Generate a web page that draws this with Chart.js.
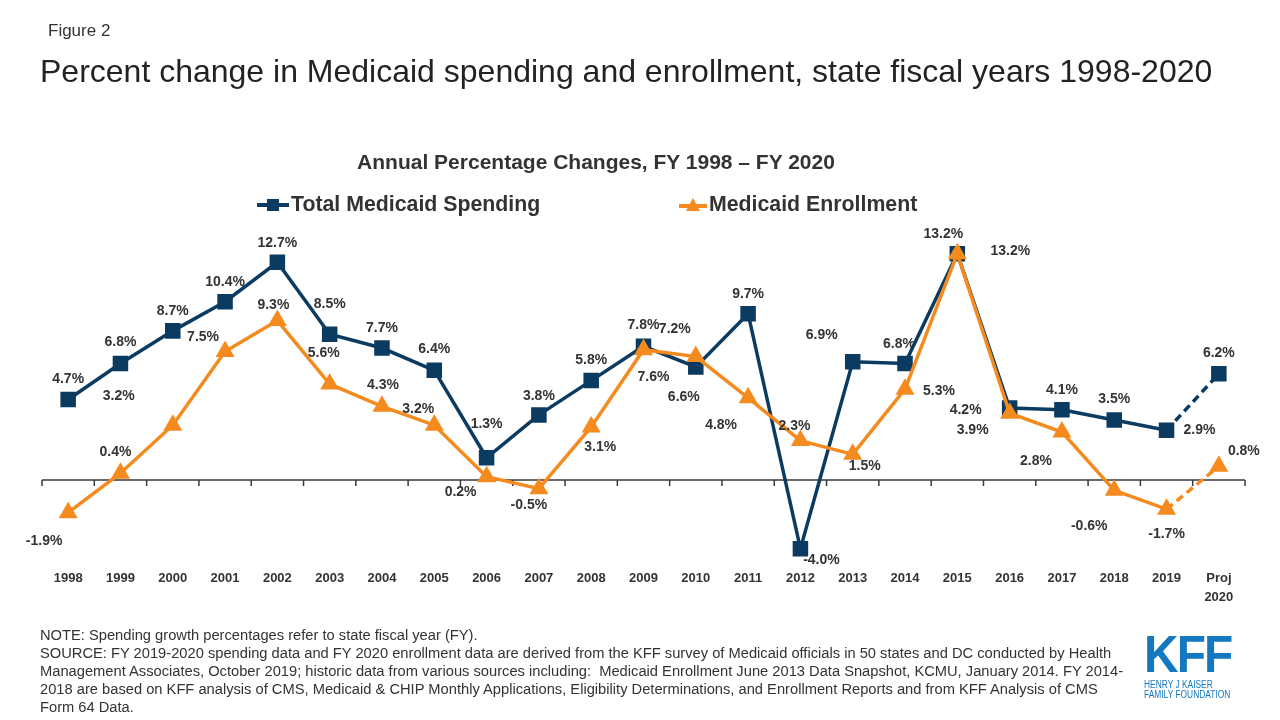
<!DOCTYPE html>
<html>
<head>
<meta charset="utf-8">
<script src="https://cdn.jsdelivr.net/npm/chart.js@4.4.0/dist/chart.umd.min.js"></script>
<style>
    body { margin: 0; background: #fff; font-family: "Liberation Sans", Arial, sans-serif; color: #333; }
    #page { position: relative; width: 1280px; height: 720px; overflow: hidden; }
    #chart { position: absolute; left: 0; top: 0; }
    .abs { position: absolute; white-space: nowrap; }
    #fig { left: 48px; top: 21px; font-size: 17px; color: #333; }
    #title { left: 40px; top: 53px; font-size: 32px; color: #222; }
    #subtitle { left: 0; width: 1192px; text-align: center; top: 150px; font-size: 21px; font-weight: bold; color: #333; }
    .legend { top: 192px; font-size: 21.3px; font-weight: bold; color: #333; display: flex; align-items: center; }
    .legend svg { margin-right: 1px; }
    .note { left: 40px; font-size: 14.7px; color: #333; }
    #kff { left: 1144px; top: 628px; color: #1378c0; background: #fff; }
    #kff .big { font-size: 52px; font-weight: bold; letter-spacing: -2px; transform: scaleX(0.92); transform-origin: left top; line-height: 52px; }
    #kff .small { font-size: 10px; line-height: 10px; transform: scaleX(0.84); transform-origin: left top; }
</style>
</head>
<body>
<div id="page">
    <canvas id="chart" width="1280" height="720"></canvas>
    <div class="abs" id="fig">Figure 2</div>
    <div class="abs" id="title">Percent change in Medicaid spending and enrollment, state fiscal years 1998-2020</div>
    <div class="abs" id="subtitle">Annual Percentage Changes, FY 1998 – FY 2020</div>
    <div class="abs legend" style="left:256px">
        <svg width="34" height="16"><line x1="1" y1="8" x2="33" y2="8" stroke="#0b3b60" stroke-width="4"/><rect x="11" y="2" width="12" height="12" fill="#0b3b60"/></svg>Total Medicaid Spending
    </div>
    <div class="abs legend" style="left:678px">
        <svg width="30" height="16"><line x1="1" y1="9" x2="29" y2="9" stroke="#f58b1f" stroke-width="4"/><polygon points="15,1 22,14 8,14" fill="#f58b1f"/></svg>Medicaid Enrollment
    </div>
    <div class="abs note" style="top:627px">NOTE: Spending growth percentages refer to state fiscal year (FY).</div>
    <div class="abs note" style="top:645px">SOURCE: FY 2019-2020 spending data and FY 2020 enrollment data are derived from the KFF survey of Medicaid officials in 50 states and DC conducted by Health</div>
    <div class="abs note" style="top:663px">Management Associates, October 2019; historic data from various sources including:&nbsp; Medicaid Enrollment June 2013 Data Snapshot, KCMU, January 2014. FY 2014-</div>
    <div class="abs note" style="top:681px">2018 are based on KFF analysis of CMS, Medicaid &amp; CHIP Monthly Applications, Eligibility Determinations, and Enrollment Reports and from KFF Analysis of CMS</div>
    <div class="abs note" style="top:699px">Form 64 Data.</div>
    <div class="abs" id="kff">
        <div class="big">KFF</div>
        <div class="small">HENRY J KAISER</div>
        <div class="small">FAMILY FOUNDATION</div>
    </div>
</div>
<script>
const years = ['1998', '1999', '2000', '2001', '2002', '2003', '2004', '2005', '2006', '2007', '2008', '2009',
    '2010', '2011', '2012', '2013', '2014', '2015', '2016', '2017', '2018', '2019', ['Proj', '2020']];

const spending = [4.7, 6.8, 8.7, 10.4, 12.7, 8.5, 7.7, 6.4, 1.3, 3.8, 5.8, 7.8,
    6.6, 9.7, -4.0, 6.9, 6.8, 13.2, 4.2, 4.1, 3.5, 2.9, 6.2];

const enrollment = [-1.9, 0.4, 3.2, 7.5, 9.3, 5.6, 4.3, 3.2, 0.2, -0.5, 3.1, 7.6,
    7.2, 4.8, 2.3, 1.5, 5.3, 13.2, 3.9, 2.8, -0.6, -1.7, 0.8];

// label offsets from each point, in px [dx, dy]
const spendingLabelPos = [[0, -20], [0, -21], [0, -20], [0, -20], [0, -19], [0, -30], [0, -20], [0, -21],
    [0, -34], [0, -19], [0, -20], [0, -21], [-12, 30], [0, -20], [21, 11], [-31, -27], [-6, -19],
    [-14, -20], [-44, 2], [0, -20], [0, -21], [33, 0], [0, -21]];
const enrollmentLabelPos = [[-24, 28], [-5, -21], [-54, -29], [-22, -14], [-4, -15], [-6, -31], [1, -21],
    [-16, -16], [-26, 16], [-10, 17], [9, 20], [10, 27], [-21, -27], [-27, 27], [-6, -14], [12, 12],
    [34, 2], [53, -3], [-37, 17], [-26, 29], [-25, 36], [0, 25], [25, -15]];

const NAVY = '#0b3b60';
const ORANGE = '#f58b1f';
const last = years.length - 1;

const zeroLine = {
    id: 'zeroLine',
    beforeDatasetsDraw(chart) {
        const { ctx, chartArea, scales } = chart;
        const y0 = scales.y.getPixelForValue(0);
        ctx.save();
        ctx.strokeStyle = '#3a3a3a';
        ctx.lineWidth = 1.5;
        ctx.beginPath();
        ctx.moveTo(chartArea.left, y0);
        ctx.lineTo(chartArea.right, y0);
        const half = (scales.x.getPixelForValue(1) - scales.x.getPixelForValue(0)) / 2;
        for (let i = 0; i <= years.length; i++) {
            const x = scales.x.getPixelForValue(i) - half;
            ctx.moveTo(x, y0);
            ctx.lineTo(x, y0 + 6);
        }
        ctx.stroke();
        ctx.restore();
    }
};

const pointLabels = {
    id: 'pointLabels',
    afterDatasetsDraw(chart) {
        const { ctx } = chart;
        ctx.save();
        ctx.font = 'bold 14px "Liberation Sans", Arial, sans-serif';
        ctx.fillStyle = '#333';
        ctx.textAlign = 'center';
        ctx.textBaseline = 'middle';
        chart.data.datasets.forEach((ds, di) => {
            const meta = chart.getDatasetMeta(di);
            meta.data.forEach((pt, i) => {
                const [dx, dy] = ds.labelPos[i];
                ctx.fillText(ds.data[i].toFixed(1) + '%', pt.x + dx, pt.y + dy);
            });
        });
        ctx.restore();
    }
};

const dashLast = ctx => ctx.p1DataIndex === last ? [8, 5] : undefined;

new Chart(document.getElementById('chart'), {
    type: 'line',
    data: {
        labels: years,
        datasets: [{
            label: 'Medicaid Enrollment',
            data: enrollment,
            labelPos: enrollmentLabelPos,
            borderColor: ORANGE,
            backgroundColor: ORANGE,
            borderWidth: 3.5,
            pointStyle: 'triangle',
            pointRadius: 7.5,
            pointHoverRadius: 7.5,
            tension: 0,
            segment: { borderDash: dashLast }
        }, {
            label: 'Total Medicaid Spending',
            data: spending,
            labelPos: spendingLabelPos,
            borderColor: NAVY,
            backgroundColor: NAVY,
            borderWidth: 3.5,
            pointStyle: 'rect',
            pointRadius: 8.5,
            pointHoverRadius: 8.5,
            tension: 0,
            segment: { borderDash: dashLast }
        }]
    },
    options: {
        responsive: false,
        animation: false,
        layout: { padding: { left: 42, right: 35, top: 240, bottom: 110.5 } },
        plugins: {
            legend: { display: false },
            tooltip: { enabled: false }
        },
        scales: {
            x: {
                offset: true,
                grid: { display: false, drawTicks: false },
                border: { display: false },
                ticks: {
                    autoSkip: false,
                    maxRotation: 0,
                    padding: 3,
                    color: '#333',
                    font: { family: '"Liberation Sans", Arial, sans-serif', size: 13, weight: 'bold', lineHeight: 1.45 }
                }
            },
            y: {
                display: false,
                min: -5,
                max: 14
            }
        }
    },
    plugins: [zeroLine, pointLabels]
});
</script>
</body>
</html>
